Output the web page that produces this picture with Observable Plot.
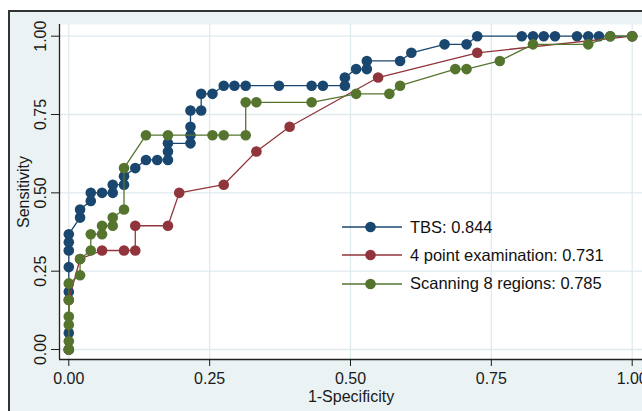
<!DOCTYPE html>
<html><head><meta charset="utf-8">
<script src="https://cdn.jsdelivr.net/npm/d3@7"></script>
<script src="https://cdn.jsdelivr.net/npm/@observablehq/plot@0.6"></script>
<style>
html,body{margin:0;padding:0;background:#fff;}
#wrap{position:relative;width:642px;height:411px;overflow:hidden;font-family:"Liberation Sans",Arial,Helvetica,sans-serif;}
#bg{position:absolute;left:8px;top:10px;width:700px;height:500px;background:#eaf2f3;border-top:2px solid #333;border-left:2px solid #333;}
#chart{position:absolute;left:0;top:0;}
#legend{position:absolute;left:342px;top:213px;}
.row{display:flex;align-items:center;height:28.3px;}
.row svg{display:block;margin-right:8px;}
.row span{font-size:16.5px;color:#111;white-space:nowrap;}
</style></head>
<body>
<div id="wrap"><div id="bg"></div><div id="chart"></div><div id="legend"></div></div>
<script>
// ---- data ----
const seriesNames = ["TBS", "4 point examination", "Scanning 8 regions"];
const aucValues = [0.844, 0.731, 0.785];
const seriesColors = ["#1a476f", "#90353b", "#55752f"];

const tbsFpr = [0, 0, 0, 0, 0, 0, 0, 0.020, 0.020, 0.039, 0.039, 0.059, 0.078, 0.078, 0.098, 0.098, 0.118, 0.137, 0.157, 0.176, 0.176, 0.176, 0.216, 0.216, 0.216, 0.216, 0.235, 0.235, 0.255, 0.275, 0.294, 0.314, 0.373, 0.431, 0.451, 0.490, 0.490, 0.510, 0.529, 0.529, 0.588, 0.608, 0.667, 0.706, 0.725, 0.804, 0.824, 0.843, 0.863, 0.902, 0.922, 0.941, 0.961, 1];
const tbsTpr = [0, 0.053, 0.184, 0.263, 0.316, 0.342, 0.368, 0.421, 0.447, 0.474, 0.500, 0.500, 0.500, 0.526, 0.526, 0.553, 0.579, 0.605, 0.605, 0.605, 0.632, 0.658, 0.658, 0.684, 0.711, 0.763, 0.763, 0.816, 0.816, 0.842, 0.842, 0.842, 0.842, 0.842, 0.842, 0.842, 0.868, 0.895, 0.895, 0.921, 0.921, 0.947, 0.974, 0.974, 1, 1, 1, 1, 1, 1, 1, 1, 1, 1];

const fourFpr = [0, 0, 0.020, 0.059, 0.098, 0.118, 0.118, 0.176, 0.196, 0.275, 0.333, 0.392, 0.549, 0.725, 1];
const fourTpr = [0, 0.158, 0.289, 0.316, 0.316, 0.316, 0.395, 0.395, 0.500, 0.526, 0.632, 0.711, 0.868, 0.947, 1];

const scanFpr = [0, 0, 0, 0, 0, 0, 0.020, 0.020, 0.039, 0.039, 0.059, 0.059, 0.078, 0.078, 0.098, 0.098, 0.137, 0.176, 0.255, 0.275, 0.314, 0.314, 0.333, 0.431, 0.510, 0.569, 0.588, 0.686, 0.706, 0.765, 0.824, 0.922, 0.961, 1];
const scanTpr = [0, 0.026, 0.079, 0.105, 0.158, 0.211, 0.237, 0.289, 0.316, 0.368, 0.368, 0.395, 0.395, 0.421, 0.447, 0.579, 0.684, 0.684, 0.684, 0.684, 0.684, 0.789, 0.789, 0.789, 0.816, 0.816, 0.842, 0.895, 0.895, 0.921, 0.974, 0.974, 1, 1];

const xTicks = [0, 0.25, 0.5, 0.75, 1];
const yTicks = [0, 0.25, 0.5, 0.75, 1];
const xLabel = "1-Specificity";
const yLabel = "Sensitivity";

// ---- build ----
const fprs = [tbsFpr, fourFpr, scanFpr];
const tprs = [tbsTpr, fourTpr, scanTpr];
const rows = fprs.map((f, k) => f.map((x, i) => ({x, y: tprs[k][i], s: seriesNames[k]})));

const xDomain = [-0.0165, 1.0183];
const yDomain = [-0.0319, 1.0373];
const fmt = d3.format(".2f");

const seriesMarks = rows.flatMap((r, k) => [
  Plot.line(r, {x: "x", y: "y", stroke: seriesColors[k], strokeWidth: 1.3}),
  Plot.dot(r, {x: "x", y: "y", fill: seriesColors[k], r: 5.3})
]);

const chart = Plot.plot({
  width: 642, height: 411,
  marginLeft: 59, marginRight: 0, marginTop: 24, marginBottom: 52,
  style: {background: "transparent", fontFamily: '"Liberation Sans", Arial, Helvetica, sans-serif', fontSize: "16px", color: "#1a1a1a"},
  x: {domain: xDomain, label: null},
  y: {domain: yDomain, label: null},
  marks: [
    Plot.frame({fill: "white", stroke: "none"}),
    Plot.gridX({ticks: xTicks, stroke: "#dfeaee", strokeOpacity: 1, strokeWidth: 1.3}),
    Plot.gridY({ticks: yTicks, stroke: "#dfeaee", strokeOpacity: 1, strokeWidth: 1.3}),
    Plot.ruleX([xDomain[0]], {stroke: "#222", strokeWidth: 1.3}),
    Plot.ruleY([yDomain[0]], {stroke: "#222", strokeWidth: 1.3}),
    Plot.axisX({ticks: xTicks, tickSize: 7, tickPadding: 6, tickFormat: fmt, label: null}),
    Plot.axisY({ticks: yTicks, tickSize: 8, tickFormat: () => "", label: null}),
    Plot.text(yTicks, {y: d => d, frameAnchor: "left", dx: -14, rotate: -90, lineAnchor: "bottom", textAnchor: "middle", text: d => fmt(d), fontSize: 16}),
    Plot.text([xLabel], {frameAnchor: "bottom", dy: 31, lineAnchor: "top", textAnchor: "middle", text: d => d, fontSize: 16}),
    Plot.text([yLabel], {frameAnchor: "left", dx: -31, rotate: -90, lineAnchor: "bottom", textAnchor: "middle", text: d => d, fontSize: 16}),
    ...seriesMarks
  ]
});
document.getElementById("chart").appendChild(chart);

// legend
const legend = document.getElementById("legend");
seriesNames.forEach((name, k) => {
  const row = document.createElement("div");
  row.className = "row";
  row.innerHTML = `<svg width="60" height="14"><line x1="0" x2="60" y1="7" y2="7" stroke="${seriesColors[k]}" stroke-width="1.3"/><circle cx="28.5" cy="7" r="5.3" fill="${seriesColors[k]}"/></svg><span>${name}: ${aucValues[k].toFixed(3)}</span>`;
  legend.appendChild(row);
});
</script>
</body></html>
